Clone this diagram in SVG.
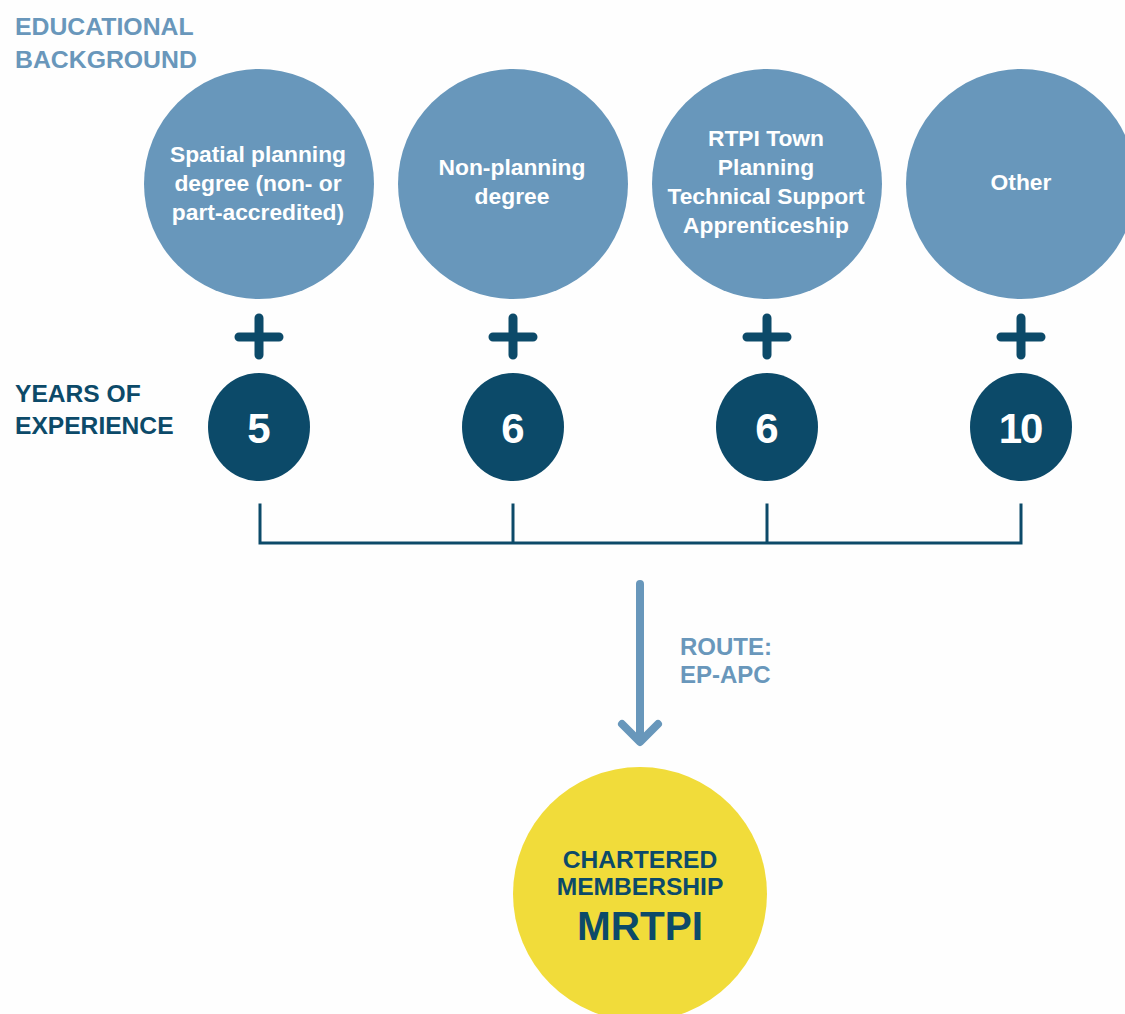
<svg xmlns="http://www.w3.org/2000/svg" width="1125" height="1014" viewBox="0 0 1125 1014">
  <style>
    .label { font-family: "Liberation Sans", Arial, sans-serif; font-weight: bold; }
    .head-light { fill: #6997bb; font-size: 24.8px; }
    .head-dark { fill: #0c4a69; font-size: 24.6px; }
    .bg-circle { fill: #6897bb; }
    .bg-text { fill: #ffffff; font-size: 22.8px; text-anchor: middle; }
    .yr-circle { fill: #0c4a69; }
    .yr-text { fill: #ffffff; font-size: 42px; text-anchor: middle; }
    .plus { stroke: #0c4a69; stroke-width: 9; stroke-linecap: round; fill: none; }
    .bracket { stroke: #0c4a69; stroke-width: 3; fill: none; stroke-linecap: square; }
    .route-arrow { stroke: #6897bb; stroke-width: 8; stroke-linecap: round; stroke-linejoin: round; fill: none; }
    .route-text { fill: #6997bb; font-size: 24px; }
    .goal-text { fill: #0c4a69; text-anchor: middle; }
  </style>

  <rect width="1125" height="1014" fill="#fefefe"/>

  <!-- row headings -->
  <g id="heading-education" class="label head-light">
    <text x="15" y="35">EDUCATIONAL</text>
    <text x="15" y="68">BACKGROUND</text>
  </g>
  <g id="heading-experience" class="label head-dark">
    <text x="15" y="402">YEARS OF</text>
    <text x="15" y="434">EXPERIENCE</text>
  </g>

  <!-- educational background options -->
  <g id="bg-spatial">
    <circle class="bg-circle" cx="259" cy="184" r="115"/>
    <text class="label bg-text" x="258" y="162">Spatial planning</text>
    <text class="label bg-text" x="258" y="191">degree (non- or</text>
    <text class="label bg-text" x="258" y="220">part-accredited)</text>
  </g>
  <g id="bg-nonplanning">
    <circle class="bg-circle" cx="513" cy="184" r="115"/>
    <text class="label bg-text" x="512" y="175">Non-planning</text>
    <text class="label bg-text" x="512" y="204">degree</text>
  </g>
  <g id="bg-apprenticeship">
    <circle class="bg-circle" cx="767" cy="184" r="115"/>
    <text class="label bg-text" x="766" y="146">RTPI Town</text>
    <text class="label bg-text" x="766" y="175">Planning</text>
    <text class="label bg-text" x="766" y="204">Technical Support</text>
    <text class="label bg-text" x="766" y="233">Apprenticeship</text>
  </g>
  <g id="bg-other">
    <circle class="bg-circle" cx="1021" cy="184" r="115"/>
    <text class="label bg-text" x="1021" y="190">Other</text>
  </g>

  <!-- plus signs -->
  <g id="plus-signs" class="plus">
    <path d="M239 337 H279 M259 318 V355"/>
    <path d="M493 337 H533 M513 318 V355"/>
    <path d="M747 337 H787 M767 318 V355"/>
    <path d="M1001 337 H1041 M1021 318 V355"/>
  </g>

  <!-- years of experience -->
  <g id="yr-5">
    <ellipse class="yr-circle" cx="259" cy="427" rx="51" ry="54"/>
    <text class="label yr-text" x="259" y="443">5</text>
  </g>
  <g id="yr-6a">
    <ellipse class="yr-circle" cx="513" cy="427" rx="51" ry="54"/>
    <text class="label yr-text" x="513" y="443">6</text>
  </g>
  <g id="yr-6b">
    <ellipse class="yr-circle" cx="767" cy="427" rx="51" ry="54"/>
    <text class="label yr-text" x="767" y="443">6</text>
  </g>
  <g id="yr-10">
    <ellipse class="yr-circle" cx="1021" cy="427" rx="51" ry="54"/>
    <text class="label yr-text" x="1020" y="443" letter-spacing="-2">10</text>
  </g>

  <!-- connectors -->
  <g id="connectors">
    <path class="bracket" d="M260 505 V543 H1021 V505 M513 505 V543 M767 505 V543"/>
    <path class="route-arrow" d="M640 584 V741 M622 724 L640 742 L658 724"/>
    <g class="label route-text">
      <text x="680" y="655">ROUTE:</text>
      <text x="680" y="683">EP-APC</text>
    </g>
  </g>

  <!-- outcome -->
  <g id="chartered-membership">
    <circle cx="640" cy="894" r="127" fill="#f1dc3a"/>
    <text class="label goal-text" x="640" y="868" font-size="24.6">CHARTERED</text>
    <text class="label goal-text" x="640" y="895" font-size="24.6">MEMBERSHIP</text>
    <text class="label goal-text" x="640" y="940" font-size="40.5">MRTPI</text>
  </g>
</svg>
